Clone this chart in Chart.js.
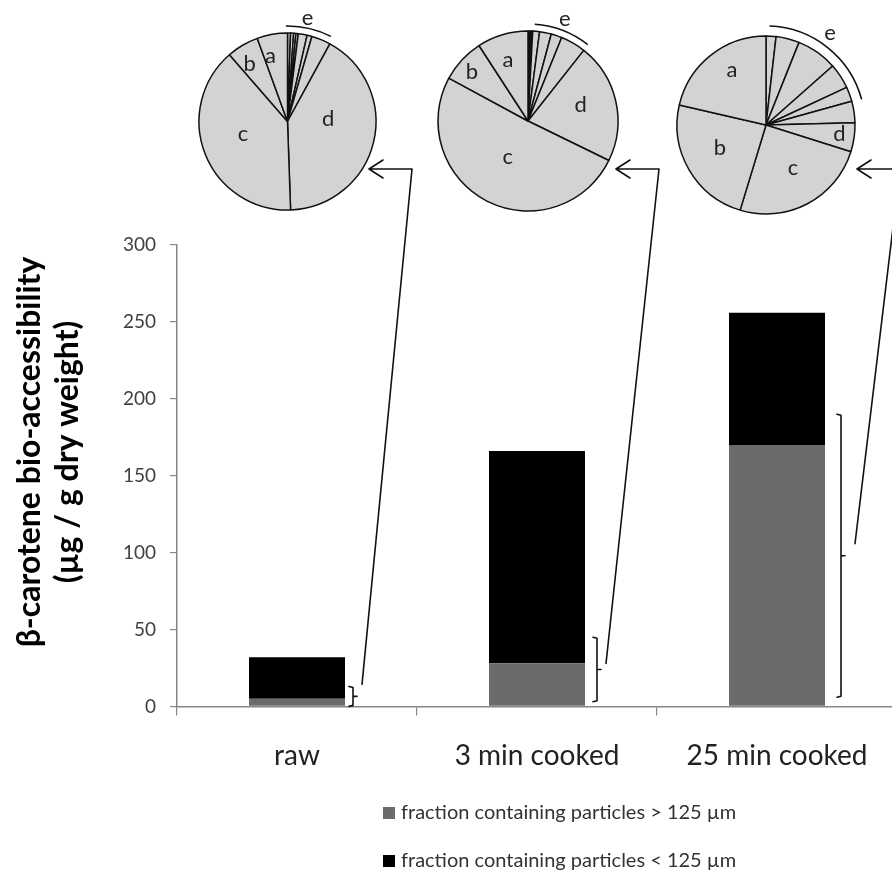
<!DOCTYPE html>
<html><head><meta charset="utf-8">
<script src="https://cdn.jsdelivr.net/npm/chart.js@4.4.1/dist/chart.umd.min.js"></script>
<style>
html,body{margin:0;padding:0;width:892px;height:870px;overflow:hidden;background:#fff;}
#wrap{position:relative;width:892px;height:870px;overflow:hidden;}
#main{position:absolute;left:0;top:0;}
.pie{position:absolute;}
</style></head><body>
<div id="wrap">
<canvas id="main" width="900" height="870"></canvas>
<canvas id="pie0" class="pie"></canvas>
<canvas id="pie1" class="pie"></canvas>
<canvas id="pie2" class="pie"></canvas>
</div>
<script>
// ---------- data ----------
const categories = ['raw', '3 min cooked', '25 min cooked'];
const seriesLabels = ['fraction containing particles > 125 µm', 'fraction containing particles < 125 µm'];
const coarseFraction = [5, 28, 170];   // grey, bottom
const fineFraction = [27, 138, 86];    // black, top
const yTicks = [0, 50, 100, 150, 200, 250, 300];
const yTitle = ['β-carotene bio-accessibility', '(µg / g dry weight)'];
const bracketLow = [0, 3, 6];
const bracketHigh = [13, 45, 190];

// pie slices (clockwise from 12 o'clock): e-sub-fractions, then d, c, b, a
const pieSliceNames = [
  ['e', 'e', 'e', 'e', 'e', 'e', 'e', 'd', 'c', 'b', 'a'],
  ['e', 'e', 'e', 'e', 'e', 'e', 'e', 'd', 'c', 'b', 'a'],
  ['e', 'e', 'e', 'e', 'e', 'e', 'd', 'c', 'b', 'a']
];
const pieRaw = [2, 2, 1.5, 1.5, 5.8, 3.2, 12.6, 149.4, 141, 21, 20];
const pie3min = [1, 1, 1, 4.4, 7.6, 7, 16.3, 77.7, 182.4, 28.6, 33];
const pie25min = [6.5, 15.3, 26.7, 16.5, 9.5, 14, 19, 89.4, 86.1, 77];
const pieLetters = ['a', 'b', 'c', 'd', 'e'];

// ---------- main chart ----------
const FONT = 'Lato';
const barGap = [8, 12, 16];
const arrowEnd = [[9, -12], [9, -6], [14, -12]];
const arrowCornerDx = [115, 122, 123];
const arrowTipDx = [72, 79, 80];
const arrowY = 169;

const annot = {
  id: 'annot',
  afterDatasetsDraw(chart) {
    const ctx = chart.ctx;
    const ys = chart.scales.y;
    const meta = chart.getDatasetMeta(1);
    ctx.save();
    ctx.strokeStyle = '#111';
    ctx.lineWidth = 1.6;
    ctx.lineCap = 'round';
    ctx.lineJoin = 'round';
    for (let i = 0; i < categories.length; i++) {
      const bar = meta.data[i];
      const bx = bar.x + bar.width / 2 + barGap[i];
      const yt = ys.getPixelForValue(bracketHigh[i]);
      const yb = ys.getPixelForValue(bracketLow[i]);
      const ym = (yt + yb) / 2;
      ctx.beginPath();
      ctx.moveTo(bx - 4, yt); ctx.lineTo(bx, yt + 1); ctx.lineTo(bx, yb - 1); ctx.lineTo(bx - 4, yb);
      ctx.moveTo(bx, ym); ctx.lineTo(bx + 4, ym);
      ctx.stroke();
      // arrow
      const ex = bx + arrowEnd[i][0], ey = ym + arrowEnd[i][1];
      const cx = bar.x + arrowCornerDx[i];
      const tx = bar.x + arrowTipDx[i];
      ctx.beginPath();
      ctx.moveTo(ex, ey); ctx.lineTo(cx, arrowY); ctx.lineTo(tx, arrowY);
      ctx.moveTo(tx + 14, arrowY - 9); ctx.lineTo(tx, arrowY); ctx.lineTo(tx + 14, arrowY + 9);
      ctx.stroke();
    }
    ctx.restore();
  },
  afterDraw(chart) {
    const ctx = chart.ctx;
    ctx.save();
    // y title
    ctx.fillStyle = '#000';
    ctx.font = 'bold 32px ' + FONT;
    ctx.textAlign = 'center';
    ctx.textBaseline = 'middle';
    const tx = [30, 68];
    const cy = 452;
    yTitle.forEach((t, j) => {
      ctx.save(); ctx.translate(tx[j], cy); ctx.rotate(-Math.PI / 2); ctx.fillText(t, 0, 0); ctx.restore();
    });
    // legend
    const rows = [813, 861];
    ctx.font = '20px ' + FONT;
    ctx.textAlign = 'left';
    chart.data.datasets.forEach((ds, j) => {
      ctx.fillStyle = ds.backgroundColor;
      ctx.fillRect(383, rows[j] - 6, 12, 12);
      ctx.fillStyle = '#333';
      ctx.fillText(ds.label, 401, rows[j]);
    });
    ctx.restore();
  }
};

const mainChart = new Chart(document.getElementById('main'), {
  type: 'bar',
  data: {
    labels: categories,
    datasets: [
      { label: seriesLabels[0], data: coarseFraction, backgroundColor: '#6b6b6b', stack: 's' },
      { label: seriesLabels[1], data: fineFraction, backgroundColor: '#000000', stack: 's' }
    ]
  },
  options: {
    responsive: false,
    animation: false,
    events: [],
    layout: { padding: { left: 28, right: 3, top: 245, bottom: 73 } },
    datasets: { bar: { barPercentage: 0.5, categoryPercentage: 0.8 } },
    plugins: { legend: { display: false }, tooltip: { enabled: false } },
    scales: {
      x: {
        stacked: true,
        grid: { display: true, drawOnChartArea: false, drawTicks: true, tickLength: 9, color: '#868686', lineWidth: 1.2, offset: true },
        border: { display: true, color: '#868686', width: 1.5 },
        ticks: { font: { family: FONT, size: 28 }, color: '#222', padding: 24 }
      },
      y: {
        stacked: true, min: 0, max: 300,
        afterBuildTicks: (s) => { s.ticks = yTicks.map(v => ({ value: v })); },
        afterFit: (s) => { s.width = 149; },
        grid: { display: true, drawOnChartArea: false, drawTicks: true, tickLength: 7, color: '#868686', lineWidth: 1.2 },
        border: { display: true, color: '#868686', width: 1.5 },
        ticks: { font: { family: FONT, size: 19 }, color: '#404040', padding: 14 }
      }
    }
  },
  plugins: [annot]
});

// ---------- pies ----------
const pieData = [pieRaw, pie3min, pie25min];
const pieDx = [-10, -9, -11];
const pieCY = [121, 121, 125];
const pieR = [88.5, 90, 89];
// polar label positions [angle deg clockwise from top, distance as fraction of radius] for a,b,c,d,e
const pieLabelPos = [
  [[345.6, 0.77], [326.8, 0.78], [254.7, 0.52], [85.8, 0.46], [11, 1.19]],
  [[341.8, 0.71], [311.2, 0.83], [209.1, 0.46], [73.2, 0.61], [19.8, 1.21]],
  [[328.3, 0.73], [243.4, 0.58], [147.9, 0.57], [97, 0.83], [34.8, 1.26]]
];
// arc over the e sub-fractions [start deg, end deg, radius offset]
const pieArc = [[-1, 27, 7], [4, 38, 7], [2, 75, 10]];
const MARGIN = 36;

const pieLabelPlugin = {
  id: 'pieLabels',
  afterDraw(chart) {
    const k = chart.options.plugins.pieLabels.k;
    const arc = chart.getDatasetMeta(0).data[0];
    const cx = arc.x, cy = arc.y, r = arc.outerRadius;
    const ctx = chart.ctx;
    ctx.save();
    ctx.fillStyle = '#222';
    ctx.font = '22px ' + FONT;
    ctx.textAlign = 'center';
    ctx.textBaseline = 'middle';
    pieLetters.forEach((L, j) => {
      const [ang, f] = pieLabelPos[k][j];
      const a = ang * Math.PI / 180;
      ctx.fillText(L, cx + f * r * Math.sin(a), cy - f * r * Math.cos(a));
    });
    const [a0, a1, off] = pieArc[k];
    ctx.strokeStyle = '#111';
    ctx.lineWidth = 1.6;
    ctx.beginPath();
    ctx.arc(cx, cy, r + off, (a0 - 90) * Math.PI / 180, (a1 - 90) * Math.PI / 180);
    ctx.stroke();
    ctx.restore();
  }
};

const xs = mainChart.scales.x;
pieData.forEach((vals, k) => {
  const cv = document.getElementById('pie' + k);
  const size = Math.round(2 * (pieR[k] + MARGIN));
  cv.width = size; cv.height = size;
  const cx = xs.getPixelForValue(k) + pieDx[k];
  cv.style.left = (cx - size / 2) + 'px';
  cv.style.top = (pieCY[k] - size / 2) + 'px';
  new Chart(cv, {
    type: 'pie',
    data: {
      labels: pieSliceNames[k],
      datasets: [{ data: vals, backgroundColor: '#d3d3d3', borderColor: '#111', borderWidth: 1.5 }]
    },
    options: {
      responsive: false, animation: false, events: [],
      layout: { padding: (size - 2 * pieR[k]) / 2 - 0.75 },
      plugins: { legend: { display: false }, tooltip: { enabled: false }, pieLabels: { k } }
    },
    plugins: [pieLabelPlugin]
  });
});
</script>
</body></html>
